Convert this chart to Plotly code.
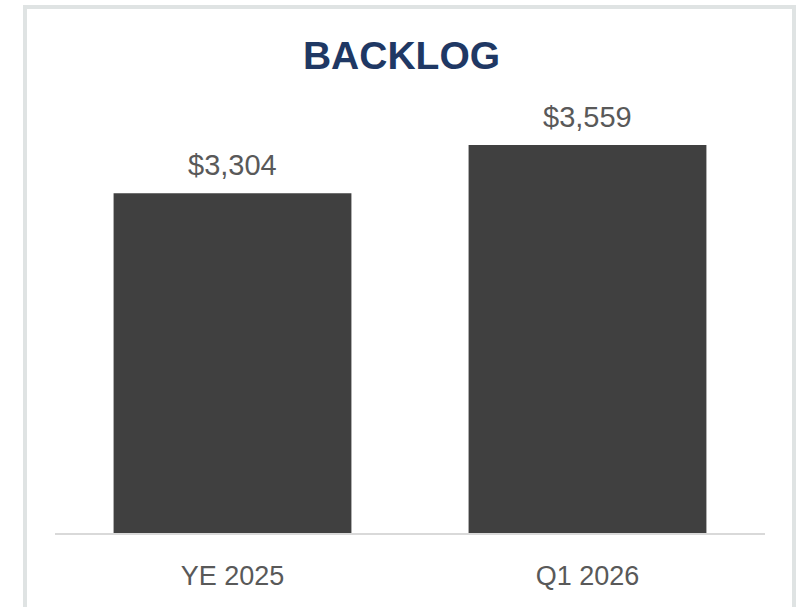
import plotly.graph_objects as go

categories = ["YE 2025", "Q1 2026"]
values = [3304, 3559]
value_labels = ["$3,304", "$3,559"]
title_text = "BACKLOG"

W, H = 803, 607
ML, MR, MT, MB = 55, 38, 62, 74
pw = W - ML - MR
ph = H - MT - MB

def px_x(x):
    return (x - ML) / pw

def px_y(y):
    return (H - MB - y) / ph

fig = go.Figure()
fig.add_trace(go.Bar(
    x=categories, y=values,
    marker=dict(color="#404040", line=dict(width=0)),
    hoverinfo="skip",
))

for c, v, t in zip(categories, values, value_labels):
    fig.add_annotation(
        x=c, y=v, text=t, showarrow=False, yanchor="bottom", yshift=10,
        font=dict(family="Liberation Sans, Arial, sans-serif", size=29, color="#595959"),
    )

fig.add_shape(
    type="rect", xref="paper", yref="paper",
    x0=px_x(25), x1=px_x(794), y0=px_y(625), y1=px_y(7),
    line=dict(color="#dfe3e3", width=4), fillcolor="rgba(0,0,0,0)", layer="below",
)

fig.update_layout(
    width=W, height=H,
    margin=dict(l=ML, r=MR, t=MT, b=MB, pad=0),
    paper_bgcolor="white", plot_bgcolor="white",
    showlegend=False,
    bargap=0.33,
    title=dict(
        text=f"<b>{title_text}</b>", x=px_x(410), xanchor="center",
        y=1 - 55 / H, yanchor="middle", yref="container",
        font=dict(family="Liberation Sans, Arial, sans-serif", size=39, color="#1F3864"),
    ),
    xaxis=dict(
        showline=True, linecolor="#d9d9d9", linewidth=2,
        showgrid=False, zeroline=False, ticks="",
        ticklabelstandoff=18,
        tickfont=dict(family="Liberation Sans, Arial, sans-serif", size=27, color="#595959"),
    ),
    yaxis=dict(
        range=[1500, 4000], visible=False, showgrid=False, zeroline=False,
    ),
)

fig.write_html(
    "out.html",
    config={"displayModeBar": False},
    post_script="document.body.style.margin='0px';document.body.style.overflow='hidden';",
)
